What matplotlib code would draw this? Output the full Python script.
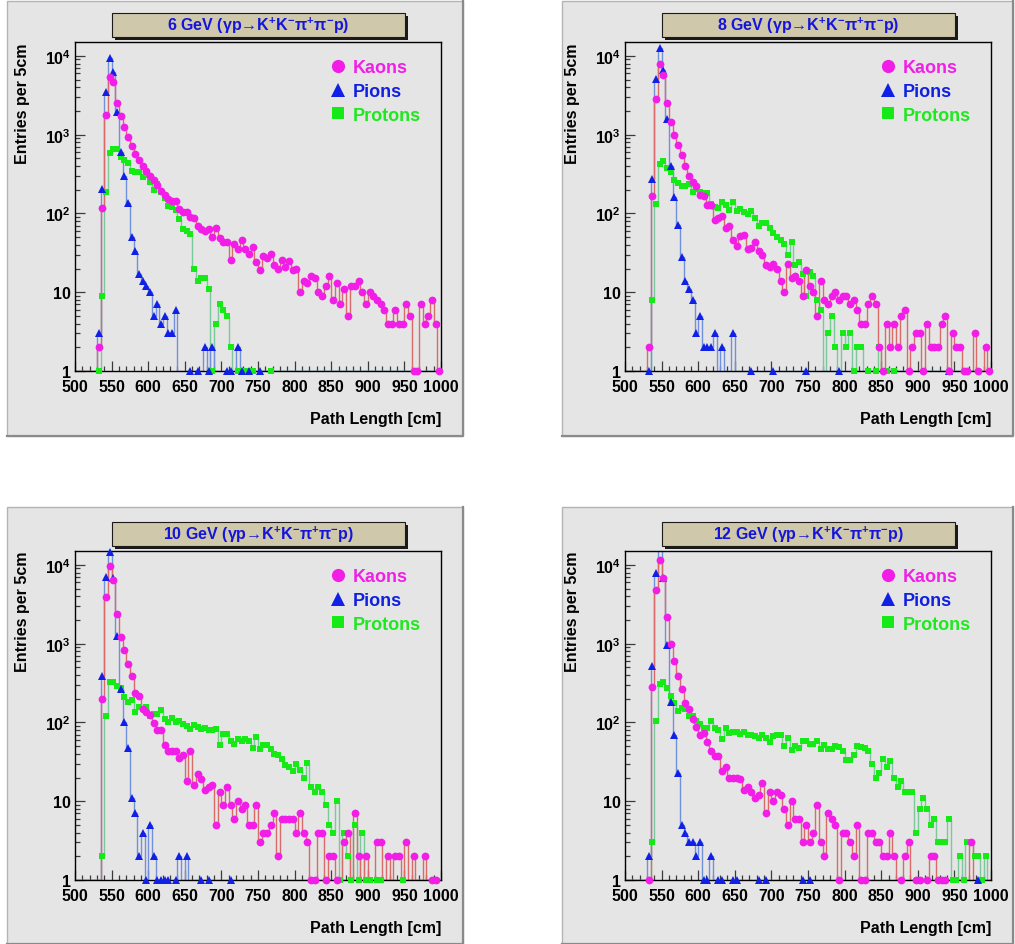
import numpy as np
import matplotlib
matplotlib.use("Agg")
import matplotlib.pyplot as plt
from matplotlib.patches import Rectangle
from matplotlib.lines import Line2D
from matplotlib.ticker import MultipleLocator, LogLocator, FuncFormatter, NullFormatter

plt.rcParams['font.family'] = ['Liberation Sans', 'DejaVu Sans']
plt.rcParams['font.weight'] = 'bold'
plt.rcParams['mathtext.fontset'] = 'custom'
plt.rcParams['mathtext.rm'] = 'Liberation Sans:bold'
plt.rcParams['mathtext.it'] = 'Liberation Sans:bold'
plt.rcParams['mathtext.bf'] = 'Liberation Sans:bold'
plt.rcParams['mathtext.sf'] = 'Liberation Sans:bold'

# 100 bins of 5 cm between 500 and 1000 cm
edges = np.arange(500, 1001, 5)
centers = edges[:-1] + 2.5

energies = ['6', '8', '10', '12']

kaons_6 = [0, 0, 0, 0, 0, 0, 2, 116, 1760, 5370,
           4640, 2490, 1720, 1260, 943, 725, 575, 476, 400, 346,
           298, 265, 227, 195, 173, 151, 145, 145, 115, 103,
           104, 91, 88, 70, 63, 59, 64, 50, 66, 49,
           44, 43, 26, 41, 35, 46, 35, 31, 38, 24,
           19, 29, 27, 31, 22, 20, 26, 21, 25, 19,
           20, 10, 14, 13, 16, 15, 10, 9, 12, 16,
           8, 13, 7, 11, 5, 12, 12, 14, 10, 7,
           10, 9, 8, 7, 6, 4, 4, 6, 4, 4,
           7, 5, 1, 1, 7, 4, 5, 8, 4, 1]
pions_6 = [0, 0, 0, 0, 0, 0, 3, 207, 3500, 9460,
           6300, 1940, 609, 299, 134, 50, 33, 17, 14, 12,
           10, 5, 7, 4, 5, 3, 3, 6, 0, 0,
           0, 1, 0, 1, 0, 2, 1, 2, 0, 0,
           0, 1, 1, 0, 2, 1, 0, 1, 0, 0,
           1, 0, 0, 0, 0, 0, 0, 0, 0, 0,
           0, 0, 0, 0, 0, 0, 0, 0, 0, 0,
           0, 0, 0, 0, 0, 0, 0, 0, 0, 0,
           0, 0, 0, 0, 0, 0, 0, 0, 0, 0,
           0, 0, 0, 0, 0, 0, 0, 0, 0, 0]
protons_6 = [0, 0, 0, 0, 0, 0, 1, 9, 187, 580,
             660, 660, 526, 476, 435, 346, 340, 340, 293, 305,
             250, 200, 237, 186, 157, 126, 120, 110, 86, 64,
             60, 55, 20, 14, 15, 15, 11, 1, 4, 7,
             6, 5, 2, 0, 1, 0, 1, 1, 1, 0,
             0, 0, 0, 1, 0, 0, 0, 0, 0, 0,
             0, 0, 0, 0, 0, 0, 0, 0, 0, 0,
             0, 0, 0, 0, 0, 0, 0, 0, 0, 0,
             0, 0, 0, 0, 0, 0, 0, 0, 0, 0,
             0, 0, 0, 0, 0, 0, 0, 0, 0, 0]

kaons_8 = [0, 0, 0, 0, 0, 0, 2, 167, 2800, 7800,
           5650, 2500, 1450, 980, 731, 546, 400, 298, 247, 225,
           172, 167, 128, 128, 83, 88, 92, 65, 70, 46,
           39, 51, 53, 35, 36, 43, 33, 30, 22, 21,
           23, 20, 14, 10, 23, 15, 16, 14, 9, 19,
           12, 10, 5, 14, 8, 7, 9, 10, 8, 9,
           9, 7, 8, 6, 4, 4, 7, 9, 7, 2,
           1, 4, 2, 4, 2, 5, 6, 1, 2, 3,
           3, 1, 4, 2, 2, 2, 4, 5, 1, 3,
           2, 2, 1, 1, 0, 3, 1, 0, 2, 1]
pions_8 = [0, 0, 0, 0, 0, 0, 1, 277, 5100, 12600,
           6570, 1560, 400, 162, 71, 28, 14, 11, 8, 3,
           5, 2, 2, 2, 3, 0, 2, 0, 0, 3,
           0, 0, 0, 0, 1, 0, 0, 0, 0, 0,
           1, 0, 0, 0, 0, 0, 0, 0, 0, 1,
           0, 0, 0, 0, 0, 0, 0, 0, 1, 0,
           0, 0, 0, 0, 0, 0, 0, 0, 0, 0,
           0, 0, 0, 0, 0, 0, 0, 0, 0, 0,
           0, 0, 0, 0, 0, 0, 0, 0, 1, 0,
           0, 0, 0, 0, 0, 0, 0, 0, 0, 0]
protons_8 = [0, 0, 0, 0, 0, 0, 0, 8, 131, 420,
             460, 380, 334, 264, 245, 225, 225, 235, 186, 207,
             186, 183, 180, 131, 122, 116, 141, 128, 110, 141,
             108, 113, 103, 98, 106, 87, 70, 75, 75, 65,
             56, 50, 46, 41, 30, 44, 22, 24, 17, 9,
             18, 16, 8, 6, 0, 3, 5, 2, 0, 3,
             2, 3, 1, 2, 2, 0, 1, 0, 1, 2,
             0, 1, 0, 1, 0, 0, 0, 0, 0, 0,
             0, 0, 0, 0, 0, 0, 0, 0, 0, 0,
             0, 0, 0, 0, 0, 0, 0, 0, 0, 0]

kaons_10 = [0, 0, 0, 0, 0, 0, 0, 198, 3870, 9770,
            6410, 2375, 1200, 830, 550, 385, 236, 214, 150, 135,
            125, 97, 81, 81, 52, 44, 44, 44, 35, 39,
            18, 43, 16, 22, 19, 14, 15, 16, 5, 13,
            9, 15, 9, 6, 10, 8, 9, 5, 5, 9,
            3, 4, 4, 5, 7, 2, 6, 6, 6, 6,
            4, 7, 4, 3, 1, 1, 4, 4, 1, 2,
            2, 1, 0, 3, 4, 0, 7, 2, 0, 2,
            0, 0, 3, 3, 0, 2, 0, 2, 2, 0,
            3, 0, 2, 0, 0, 2, 0, 1, 1, 0]
pions_10 = [0, 0, 0, 0, 0, 0, 0, 392, 6950, 14660,
            6740, 1260, 265, 100, 47, 11, 7, 2, 4, 1,
            5, 2, 1, 1, 1, 1, 0, 1, 2, 0,
            2, 0, 0, 0, 1, 0, 1, 0, 0, 0,
            0, 0, 1, 0, 0, 0, 0, 0, 0, 0,
            0, 0, 0, 0, 0, 0, 0, 0, 0, 0,
            0, 0, 0, 0, 0, 0, 0, 0, 0, 0,
            0, 0, 0, 0, 0, 0, 0, 0, 0, 0,
            0, 0, 0, 0, 0, 0, 0, 0, 0, 0,
            0, 0, 0, 0, 0, 0, 0, 0, 0, 0]
protons_10 = [0, 0, 0, 0, 0, 0, 0, 2, 120, 322,
              325, 290, 270, 211, 180, 192, 134, 155, 147, 157,
              122, 127, 127, 143, 110, 100, 115, 100, 103, 95,
              91, 82, 93, 88, 82, 85, 80, 80, 82, 52,
              71, 71, 58, 53, 61, 58, 61, 58, 47, 65,
              46, 51, 51, 46, 40, 39, 34, 29, 27, 24,
              30, 25, 20, 31, 15, 13, 15, 13, 9, 5,
              4, 10, 1, 4, 2, 1, 5, 1, 4, 1,
              1, 0, 1, 1, 0, 0, 0, 0, 0, 1,
              0, 0, 0, 0, 0, 0, 0, 0, 0, 0]

kaons_12 = [0, 0, 0, 0, 0, 0, 1, 279, 4830, 11600,
            6740, 2190, 990, 596, 392, 265, 176, 148, 110, 87,
            69, 74, 56, 44, 37, 37, 24, 27, 20, 20,
            20, 19, 14, 15, 13, 11, 12, 17, 7, 13,
            10, 13, 12, 8, 5, 10, 6, 6, 3, 5,
            3, 4, 9, 3, 2, 7, 6, 5, 1, 4,
            4, 3, 2, 5, 1, 1, 4, 4, 3, 3,
            2, 2, 4, 2, 0, 1, 2, 3, 0, 1,
            1, 0, 1, 2, 2, 1, 1, 1, 0, 0,
            0, 0, 0, 0, 3, 0, 0, 0, 0, 0]
pions_12 = [0, 0, 0, 0, 0, 0, 2, 515, 7870, 18000,
            6740, 950, 180, 69, 23, 5, 4, 3, 3, 2,
            3, 1, 1, 2, 0, 1, 1, 0, 0, 1,
            1, 0, 0, 0, 0, 0, 1, 0, 1, 0,
            0, 0, 0, 0, 0, 0, 0, 0, 1, 0,
            1, 0, 0, 0, 0, 0, 0, 0, 0, 0,
            0, 0, 0, 0, 0, 0, 0, 0, 0, 0,
            0, 0, 0, 0, 0, 0, 0, 0, 0, 0,
            0, 0, 0, 0, 0, 0, 0, 0, 0, 0,
            0, 0, 0, 0, 0, 0, 1, 0, 0, 0]
protons_12 = [0, 0, 0, 0, 0, 0, 0, 3, 105, 307,
              330, 276, 214, 175, 139, 151, 148, 122, 122, 105,
              96, 86, 86, 105, 85, 81, 62, 85, 74, 76,
              75, 72, 75, 70, 70, 68, 64, 70, 64, 57,
              68, 70, 70, 50, 64, 45, 50, 48, 58, 58,
              53, 54, 58, 46, 52, 46, 46, 50, 49, 44,
              33, 33, 39, 50, 49, 47, 44, 30, 20, 23,
              34, 27, 32, 20, 15, 18, 13, 13, 13, 4,
              8, 11, 8, 5, 6, 3, 3, 3, 6, 1,
              1, 2, 1, 3, 3, 2, 2, 1, 2, 0]

kaons = [kaons_6, kaons_8, kaons_10, kaons_12]
pions = [pions_6, pions_8, pions_10, pions_12]
protons = [protons_6, protons_8, protons_10, protons_12]

# marker colour, line colour, marker, size, legend text colour
styles = {
    'Kaons':   ('#f21ee8', '#d96a6a', 'o', 5.6, '#f020e6'),
    'Pions':   ('#1020e6', '#7090dc', '^', 5.6, '#1020e0'),
    'Protons': ('#16ea16', '#7cc79c', 's', 4.9, '#1ee81e'),
}

W, H = 1015, 945
YMAX = 15000
fig = plt.figure(figsize=(W / 100, H / 100), dpi=100)
fig.patch.set_facecolor('white')

# pads and axes boxes in pixels: (left, top, right, bottom)
pads = [(7, 2, 463, 437), (562, 2, 1013, 437), (7, 508, 463, 945), (562, 508, 1013, 945)]
frames = [(75, 43, 441, 372), (625, 43, 991, 372), (75, 552, 441, 881), (625, 552, 991, 881)]


def fig_rect(l, t, r, b):
    return [l / W, 1 - b / H, (r - l) / W, (b - t) / H]


def ylab(v, pos):
    e = int(round(np.log10(v)))
    if e == 0:
        return '1'
    if e == 1:
        return '10'
    return r'$10^{%d}$' % e


for k in range(4):
    x, y, w, h = fig_rect(*pads[k])
    fig.add_artist(Rectangle((x, y), w, h, transform=fig.transFigure,
                             facecolor='#e5e5e5', edgecolor='#b4b4b4', lw=1, zorder=0))
    # darker bevel on right and bottom
    fig.add_artist(Line2D([x + w, x + w, x], [y + h, y, y], transform=fig.transFigure,
                          color='#8a8a8a', lw=1.6, zorder=0.5))

    ax = fig.add_axes(fig_rect(*frames[k]))
    ax.set_facecolor('#e5e5e5')
    ax.set_yscale('log')
    ax.set_xlim(500, 1000)
    ax.set_ylim(1, YMAX)

    for name, vals in [('Protons', protons[k]), ('Pions', pions[k]), ('Kaons', kaons[k])]:
        mc, lc, mk, ms, tc = styles[name]
        v = np.array(vals, dtype=float)
        ax.stairs(np.clip(v, 1, None), edges, baseline=None, color=lc, lw=1.0, zorder=2)
        m = (v > 0) & (v <= YMAX)
        ax.plot(centers[m], v[m], ls='none', marker=mk, ms=ms, color=mc, mew=0,
                zorder=3, clip_on=False)

    for s in ax.spines.values():
        s.set_color('black')
        s.set_linewidth(1.0)

    ax.xaxis.set_major_locator(MultipleLocator(50))
    ax.xaxis.set_minor_locator(MultipleLocator(10))
    ax.yaxis.set_major_locator(LogLocator(base=10, numticks=10))
    ax.yaxis.set_minor_locator(LogLocator(base=10, subs=np.arange(2, 10), numticks=10))
    ax.yaxis.set_major_formatter(FuncFormatter(ylab))
    ax.yaxis.set_minor_formatter(NullFormatter())
    ax.tick_params(which='both', direction='in', top=False, right=False, color='#3a3a3a',
                   labelsize=11.5, width=0.9)
    ax.tick_params(axis='x', which='major', length=7, pad=6)
    ax.tick_params(axis='x', which='minor', length=3.5)
    ax.tick_params(axis='y', which='major', length=7, pad=3)
    ax.tick_params(axis='y', which='minor', length=3.5)
    for t in ax.get_xticklabels() + ax.get_yticklabels():
        t.set_fontweight('bold')

    ax.set_xlabel('Path Length [cm]', fontsize=11.5, fontweight='bold', loc='right')
    ax.xaxis.set_label_coords(1.0, -0.143)
    ax.xaxis.label.set_va('center')
    ax.set_ylabel('Entries per 5cm', fontsize=11.5, fontweight='bold', loc='top')
    ax.yaxis.set_label_coords(-0.123, 1.0)

    # title box with shadow
    bx0, bx1, by0, by1 = 0.100, 0.903, 1.015, 1.088
    dx, dy = 3.0 / 366, 3.0 / 329
    ax.add_patch(Rectangle((bx0 + dx, by0 - dy), bx1 - bx0, by1 - by0, transform=ax.transAxes,
                           facecolor='#1a1a1a', edgecolor='none', clip_on=False, zorder=5))
    ax.add_patch(Rectangle((bx0, by0), bx1 - bx0, by1 - by0, transform=ax.transAxes,
                           facecolor='#cfc8aa', edgecolor='#1a1a1a', lw=0.8, clip_on=False, zorder=6))
    ax.text((bx0 + bx1) / 2, (by0 + by1) / 2,
            '%s GeV (γp→K$^{+}$K$^{-}$π$^{+}$π$^{-}$p)' % energies[k],
            transform=ax.transAxes, ha='center', va='center', color='#1414dc',
            fontsize=11.5, fontweight='bold', zorder=7)

    handles = []
    labels = []
    colors = []
    for name in ['Kaons', 'Pions', 'Protons']:
        mc, lc, mk, ms, tc = styles[name]
        handles.append(Line2D([], [], ls='none', marker=mk, color=mc, mew=0,
                              ms=9.5 if mk != 's' else 8.5))
        labels.append(name)
        colors.append(tc)
    ax.legend(handles, labels, loc='upper left', bbox_to_anchor=(0.675, 0.97), frameon=False,
              handlelength=1.0, handletextpad=0.3, labelspacing=0.38, borderaxespad=0,
              prop={'weight': 'bold', 'size': 13}, labelcolor=colors)

fig.savefig('out.png', dpi=100, facecolor='white')
